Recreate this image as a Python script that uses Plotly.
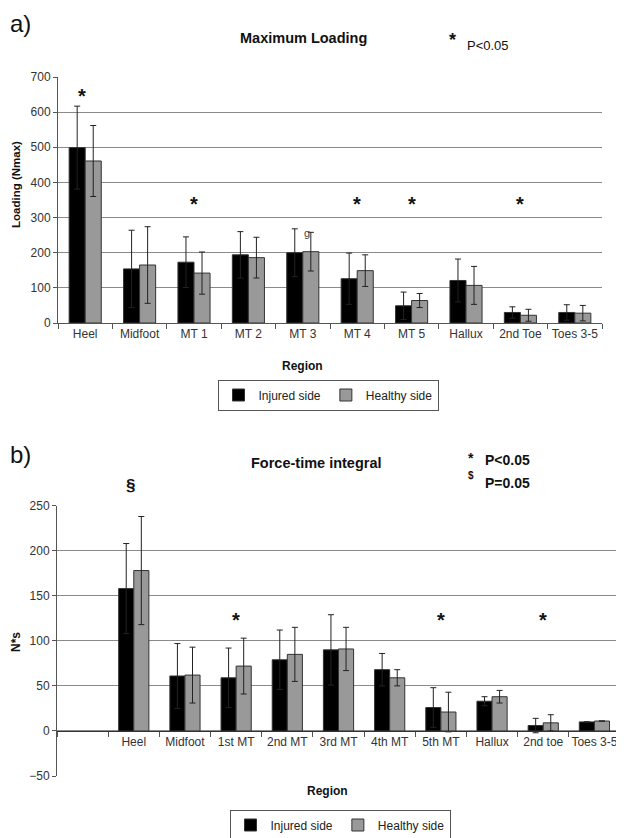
import plotly.graph_objects as go

# ---------------- Data ----------------
# a) Maximum Loading (Nmax)
regions_a = ["Heel", "Midfoot", "MT 1", "MT 2", "MT 3", "MT 4", "MT 5", "Hallux", "2nd Toe", "Toes 3-5"]
injured_a = [499, 154, 173, 194, 200, 126, 49, 121, 30, 30]
injured_a_sd = [118, 110, 72, 66, 68, 73, 39, 61, 16, 22]
healthy_a = [461, 165, 142, 186, 203, 149, 64, 107, 22, 28]
healthy_a_sd = [101, 109, 60, 58, 55, 45, 20, 54, 17, 22]
star_a = ["Heel", "MT 1", "MT 4", "MT 5", "2nd Toe"]

# b) Force-time integral (N*s)
regions_b = [" ", "Heel", "Midfoot", "1st MT", "2nd MT", "3rd MT", "4th MT", "5th MT", "Hallux", "2nd toe", "Toes 3-5"]
injured_b = [None, 158, 61, 59, 79, 90, 68, 26, 33, 6, 10]
injured_b_sd = [None, 50, 36, 33, 33, 39, 18, 22, 5, 8, 0]
healthy_b = [None, 178, 62, 72, 85, 91, 59, 21, 38, 9, 11]
healthy_b_sd = [None, 60, 31, 31, 30, 24, 9, 22, 7, 9, 0]
star_b = ["1st MT", "5th MT", "2nd toe"]

# ---------------- Layout helpers ----------------
# the page body has an 8px margin, so the figure is drawn 8px in from the window corner
OFF = 8
W, H = 624 - OFF, 838 - OFF
def px(x):
    return (x - OFF) / W
def py(y):
    return 1 - (y - OFF) / H

FONT = "Liberation Sans, Arial, sans-serif"
INJ = "#000000"
HEA = "#999999"
EDGE = "#333333"
GRID = "#8a8a8a"

fig = go.Figure()

def err(arr, color):
    return dict(type="data", array=arr, visible=True, color=color, thickness=1, width=3)

# top chart
fig.add_trace(go.Bar(x=regions_a, y=injured_a, name="Injured side", marker=dict(color=INJ, line=dict(color=EDGE, width=1)),
                     error_y=err(injured_a_sd, "#222222"), xaxis="x", yaxis="y", legend="legend"))
fig.add_trace(go.Bar(x=regions_a, y=healthy_a, name="Healthy side", marker=dict(color=HEA, line=dict(color=EDGE, width=1)),
                     error_y=err(healthy_a_sd, "#222222"), xaxis="x", yaxis="y", legend="legend"))
# bottom chart
fig.add_trace(go.Bar(x=regions_b, y=injured_b, name="Injured side", marker=dict(color=INJ, line=dict(color=EDGE, width=1)),
                     error_y=err(injured_b_sd, "#222222"), xaxis="x2", yaxis="y2", legend="legend2"))
fig.add_trace(go.Bar(x=regions_b, y=healthy_b, name="Healthy side", marker=dict(color=HEA, line=dict(color=EDGE, width=1)),
                     error_y=err(healthy_b_sd, "#222222"), xaxis="x2", yaxis="y2", legend="legend2"))

tickfont = dict(family=FONT, size=12, color="#333333")

ya_dom = [py(323), py(77)]
yb_dom = [py(776), py(505.7)]
zero_b = yb_dom[0] + (yb_dom[1] - yb_dom[0]) * 50 / 300

legend_common = dict(orientation="h", xanchor="center", yanchor="middle",
                     bordercolor="#555555", borderwidth=1, font=dict(family=FONT, size=12, color="#222222"),
                     itemwidth=30, tracegroupgap=0, bgcolor="white")

fig.update_layout(
    width=W, height=H,
    margin=dict(l=0, r=0, t=0, b=0, autoexpand=False),
    paper_bgcolor="white", plot_bgcolor="white",
    barmode="group", bargap=0.41, bargroupgap=0,
    font=dict(family=FONT, color="#222222"),
    xaxis=dict(domain=[px(58), px(602)], anchor="y", type="category", tickson="boundaries",
               ticks="outside", ticklen=5, tickcolor="#555555", showline=True, linecolor="#555555",
               tickfont=tickfont, tickangle=0, showgrid=False, range=[-0.5, 9.5]),
    yaxis=dict(domain=ya_dom, anchor="x", range=[0, 700], dtick=100, showgrid=True, gridcolor=GRID,
               ticks="outside", ticklen=4, tickcolor="#555555", showline=True, linecolor="#555555",
               tickfont=tickfont, zeroline=False),
    xaxis2=dict(domain=[px(57), px(620)], anchor="free", position=zero_b, type="category", tickson="boundaries",
                ticks="outside", ticklen=5, tickcolor="#555555", showline=True, linecolor="#333333",
                tickfont=tickfont, tickangle=0, showgrid=False, range=[-0.5, 10.5]),
    yaxis2=dict(domain=yb_dom, anchor="x2", range=[-50, 250], dtick=50, showgrid=True, gridcolor=GRID,
                ticks="outside", ticklen=4, tickcolor="#555555", showline=True, linecolor="#555555",
                tickfont=tickfont, zeroline=False),
    legend=dict(x=px(328), y=py(395), **legend_common),
    legend2=dict(x=px(340), y=py(825), **legend_common),
)

ann = []
def paper_text(x, y, text, size, bold=False, angle=0, color="#111111", xanchor="center", yanchor="middle"):
    ann.append(dict(xref="paper", yref="paper", x=px(x), y=py(y), text=f"<b>{text}</b>" if bold else text,
                    showarrow=False, xanchor=xanchor, yanchor=yanchor, textangle=angle,
                    font=dict(family=FONT, size=size, color=color)))

# panel labels and titles
paper_text(OFF, OFF, "a)", 24, xanchor="left", yanchor="top")
paper_text(303, 38, "Maximum Loading", 14.5, bold=True)
paper_text(452, 40, "*", 18, bold=True)
paper_text(488, 46, "P<0.05", 13)
paper_text(16, 185, "Loading (Nmax)", 11.5, bold=True, angle=-90)
paper_text(302, 366, "Region", 12, bold=True)

paper_text(OFF, 454, "b)", 24, xanchor="left")
paper_text(316, 463, "Force-time integral", 14.5, bold=True)
paper_text(471, 458, "*", 14, bold=True)
paper_text(507, 460, "P<0.05", 14, bold=True)
paper_text(471, 475, "$", 10, bold=True)
paper_text(507, 483, "P=0.05", 14, bold=True)
paper_text(130, 485, "§", 17, bold=True)
paper_text(16, 642, "N*s", 12, bold=True, angle=-90)
paper_text(327, 791, "Region", 12, bold=True)

# significance stars (data coordinates)
for r in star_a:
    ann.append(dict(xref="x", yref="y", x=r, y=(645 if r == "Heel" else 340), text="<b>*</b>", showarrow=False,
                    xshift=(-3 if r == "Heel" else 0), font=dict(family=FONT, size=20, color="#111111")))
ann.append(dict(xref="x", yref="y", x="MT 3", y=255, xshift=4, text="g", showarrow=False,
                font=dict(family=FONT, size=11, color="#444444")))
for r in star_b:
    ann.append(dict(xref="x2", yref="y2", x=r, y=123, text="<b>*</b>", showarrow=False,
                    font=dict(family=FONT, size=20, color="#111111")))

fig.update_layout(annotations=ann)
fig.write_html("out.html")
